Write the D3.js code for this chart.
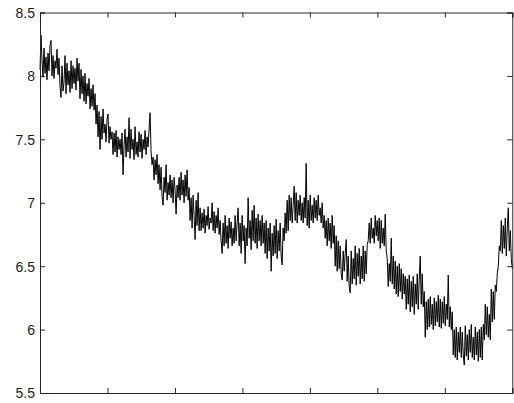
<!DOCTYPE html>
<html>
<head>
<meta charset="utf-8">
<script src="https://cdn.jsdelivr.net/npm/d3@7"></script>
<style>
  html, body { margin: 0; padding: 0; background: #fff; }
  svg { display: block; }
  .tick text { font-family: "Liberation Sans", Arial, sans-serif; font-size: 14px; fill: #1a1a1a; }
</style>
</head>
<body>
<div id="chart"></div>
<script>
// Sampled signal values (one per sample, in order)
const signal = [
  8.05, 8.32, 8.12, 7.99, 8.22, 8.02, 8.15, 7.97, 8.18, 8.04, 8.24, 8.28, 8.00, 8.16, 7.98, 8.12, 8.06, 8.21, 8.01, 8.14,
  7.92, 7.83, 8.08, 7.88, 7.95, 8.16, 7.86, 8.10, 7.93, 8.04, 7.87, 8.12, 7.90, 8.08, 7.94, 8.06, 7.89, 8.14, 7.96, 8.10,
  7.82, 8.05, 7.86, 8.00, 7.80, 8.02, 7.78, 7.94, 7.84, 7.98, 7.74, 7.90, 7.76, 7.93, 7.73, 7.86, 7.62, 7.77, 7.52, 7.72,
  7.42, 7.68, 7.50, 7.74, 7.55, 7.62, 7.48, 7.66, 7.70, 7.47, 7.60, 7.50, 7.56, 7.38, 7.55, 7.40, 7.57, 7.36, 7.52, 7.42,
  7.50, 7.38, 7.55, 7.22, 7.45, 7.58, 7.36, 7.52, 7.40, 7.67, 7.35, 7.58, 7.42, 7.50, 7.34, 7.60, 7.38, 7.48, 7.36, 7.56,
  7.40, 7.54, 7.35, 7.50, 7.42, 7.57, 7.38, 7.52, 7.44, 7.58, 7.71, 7.40, 7.30, 7.36, 7.18, 7.34, 7.22, 7.38, 7.15, 7.30,
  7.10, 7.28, 7.05, 6.98, 7.20, 7.08, 7.30, 7.02, 7.16, 7.06, 7.22, 7.04, 7.18, 7.00, 7.20, 7.10, 6.91, 7.14, 7.04, 7.20,
  7.02, 7.24, 7.06, 7.18, 7.00, 7.22, 7.05, 7.26, 7.02, 7.12, 6.86, 7.04, 6.80, 7.06, 6.90, 6.71, 7.02, 6.82, 7.08, 6.78,
  6.96, 6.78, 6.92, 6.80, 6.95, 6.76, 6.90, 6.82, 6.97, 6.79, 6.88, 6.84, 7.00, 6.78, 6.93, 6.76, 6.90, 6.80, 6.96, 6.75,
  6.86, 6.70, 6.60, 6.84, 6.66, 6.90, 6.68, 6.82, 6.64, 6.88, 6.72, 6.85, 6.66, 6.80, 6.68, 6.90, 6.70, 6.84, 6.96, 6.66,
  6.84, 6.60, 6.90, 6.70, 6.82, 6.52, 6.80, 6.66, 7.04, 6.72, 6.86, 6.63, 6.94, 6.70, 6.98, 6.68, 6.88, 6.64, 6.91, 6.70,
  6.86, 6.66, 6.90, 6.68, 6.84, 6.60, 6.86, 6.56, 6.80, 6.62, 6.84, 6.46, 6.76, 6.58, 6.82, 6.60, 6.87, 6.56, 6.78, 6.62,
  6.84, 6.58, 6.51, 6.80, 6.70, 6.92, 6.76, 7.02, 6.78, 7.06, 6.86, 7.04, 6.84, 6.98, 7.13, 6.86, 7.08, 6.84, 7.02, 6.90,
  7.06, 6.86, 7.00, 6.84, 7.04, 6.88, 7.31, 6.82, 7.02, 6.80, 7.06, 6.86, 6.98, 6.84, 7.04, 6.88, 7.02, 6.86, 7.06, 6.90,
  6.96, 6.84, 7.00, 6.80, 6.90, 6.72, 6.86, 6.66, 6.88, 6.70, 6.84, 6.64, 6.90, 6.68, 6.82, 6.50, 6.74, 6.46, 6.70, 6.48,
  6.66, 6.44, 6.39, 6.62, 6.46, 6.60, 6.71, 6.38, 6.58, 6.34, 6.29, 6.62, 6.36, 6.56, 6.40, 6.66, 6.35, 6.60, 6.42, 6.64,
  6.36, 6.58, 6.40, 6.66, 6.38, 6.62, 6.44, 6.67, 6.70, 6.84, 6.68, 6.88, 6.72, 6.80, 6.68, 6.90, 6.74, 6.86, 6.70, 6.88,
  6.64, 6.86, 6.68, 6.80, 6.66, 6.91, 6.62, 6.56, 6.34, 6.52, 6.38, 6.72, 6.36, 6.58, 6.32, 6.54, 6.28, 6.50, 6.26, 6.52,
  6.30, 6.48, 6.24, 6.44, 6.28, 6.42, 6.16, 6.40, 6.20, 6.43, 6.14, 6.38, 6.18, 6.42, 6.12, 6.36, 6.20, 6.44, 6.16, 6.40,
  6.58, 6.20, 6.44, 6.18, 6.30, 5.94, 6.22, 6.00, 6.24, 6.02, 6.26, 6.04, 6.20, 6.00, 6.25, 6.03, 6.22, 6.06, 6.27, 6.02,
  6.24, 6.01, 6.22, 6.05, 6.26, 6.03, 6.20, 6.08, 6.43, 6.02, 6.18, 6.00, 6.14, 5.80, 6.00, 5.78, 6.02, 5.76, 5.98, 5.82,
  6.02, 5.78, 5.98, 5.80, 5.72, 6.03, 5.79, 5.96, 5.76, 6.00, 5.82, 6.04, 5.78, 5.94, 5.76, 6.02, 5.80, 5.98, 5.75, 6.00,
  5.78, 6.02, 5.76, 6.04, 5.92, 6.20, 5.96, 6.18, 5.94, 6.12, 5.92, 6.32, 6.06, 6.30, 6.08, 6.35, 6.30, 6.44, 6.50, 6.66,
  6.62, 6.86, 6.60, 6.82, 6.64, 6.88, 6.58, 6.80, 6.96, 6.62, 6.78, 6.56, 6.48
];
const yTickValues = [5.5, 6, 6.5, 7, 7.5, 8, 8.5];
const yTickLabels = ["5.5", "6", "6.5", "7", "7.5", "8", "8.5"];
const xTickCount = 8;

const W = 514, H = 403;
const plotLeft = 40, plotRight = 512.3, plotTop = 12.5, plotBottom = 393;

const svg = d3.select("#chart").append("svg")
  .attr("width", W).attr("height", H);

const n = signal.length;
const x = d3.scaleLinear().domain([0, n - 1]).range([plotLeft, plotRight]);
const y = d3.scaleLinear().domain([5.5, 8.5]).range([plotBottom, plotTop]);

const xTicks = d3.range(xTickCount).map(k => k * (n - 1) / (xTickCount - 1));

const axisColor = "#262626";

// signal trace
svg.append("path")
  .datum(signal)
  .attr("fill", "none")
  .attr("stroke", "#000")
  .attr("stroke-width", 1)
  .attr("stroke-linejoin", "miter")
  .attr("d", d3.line().x((d, i) => x(i)).y(d => y(d)));

// bottom axis, ticks pointing inward, no labels
const gB = svg.append("g").attr("transform", `translate(0,${plotBottom})`)
  .call(d3.axisBottom(x).tickValues(xTicks).tickSize(-5).tickFormat(""));
// top axis
const gT = svg.append("g").attr("transform", `translate(0,${plotTop})`)
  .call(d3.axisTop(x).tickValues(xTicks).tickSize(-5).tickFormat(""));
// left axis with labels
const gL = svg.append("g").attr("transform", `translate(${plotLeft},0)`)
  .call(d3.axisLeft(y).tickValues(yTickValues).tickSize(-5)
    .tickFormat((d, i) => yTickLabels[i]));
// right axis
const gR = svg.append("g").attr("transform", `translate(${plotRight},0)`)
  .call(d3.axisRight(y).tickValues(yTickValues).tickSize(-5).tickFormat(""));

[gB, gT, gL, gR].forEach(g => {
  g.selectAll(".domain").attr("stroke", axisColor).attr("stroke-width", 1);
  g.selectAll(".tick line").attr("stroke", axisColor).attr("stroke-width", 1);
});
gL.selectAll(".tick text").attr("dy", "0.35em").attr("x", -5);
</script>
</body>
</html>
